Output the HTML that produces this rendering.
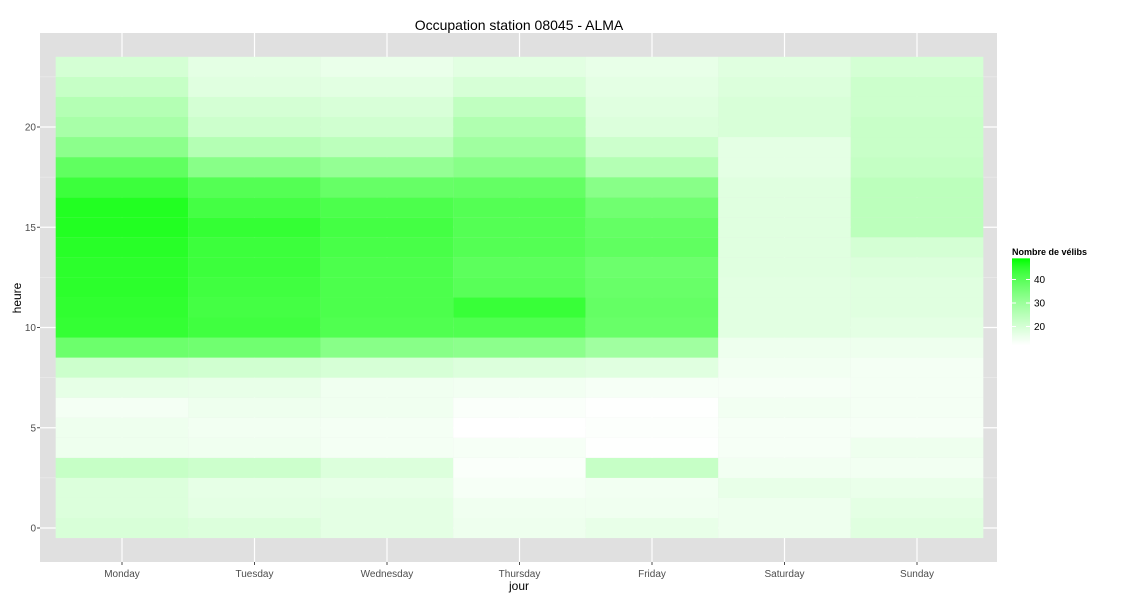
<!DOCTYPE html>
<html><head><meta charset="utf-8"><style>
body{margin:0;background:#fff;font-family:"Liberation Sans",Arial,sans-serif}
svg text{font-family:"Liberation Sans",Arial,sans-serif}
</style></head><body>
<svg id="chart" width="1125" height="600" xmlns="http://www.w3.org/2000/svg">
<rect x="0" y="0" width="1125" height="600" fill="#fff"/>
<rect x="40" y="33" width="957" height="529" fill="#e0e0e0"/>
<g id="grid"></g>
<g id="tiles"></g>
<g id="axes"></g>
<text x="519" y="30" text-anchor="middle" font-size="14" fill="#000">Occupation station 08045 - ALMA</text>
<text x="519" y="590" text-anchor="middle" font-size="12" fill="#000">jour</text>
<text x="21" y="298" text-anchor="middle" font-size="12" fill="#000" transform="rotate(-90 21 298)">heure</text>
<g id="legend">
<text x="1012" y="255" font-size="9" font-weight="bold" fill="#000">Nombre de vélibs</text>
</g>
</svg>
<script>
const days = ["Monday","Tuesday","Wednesday","Thursday","Friday","Saturday","Sunday"];
const yTicks = [0,5,10,15,20];
const legendTicks = [20,30,40];
// values by hour 0..23
const monday    = [19.4,18.6,18.6,22.6,15.3,15.3,14.1,16.7,21.5,37.2,44.6,45.0,45.4,45.4,45.9,46.5,46.5,43.6,39.0,32.4,27.8,25.7,22.6,20.1];
const tuesday   = [18.6,17.1,16.7,21.5,14.9,14.5,15.3,16.4,20.8,36.6,43.1,42.6,43.1,43.6,43.6,44.6,42.6,40.6,33.0,25.7,21.5,20.1,17.9,17.1];
const wednesday = [17.1,17.1,16.4,18.6,14.1,14.1,14.9,14.9,19.7,33.0,41.1,41.6,41.6,41.6,42.2,42.6,41.6,38.1,31.1,24.4,20.8,19.4,17.5,16.0];
const thursday  = [15.3,14.9,13.7,13.0,13.7,12.0,13.0,14.5,18.6,32.4,41.1,44.1,40.0,39.5,40.6,40.6,40.6,38.4,33.0,29.1,26.4,23.7,19.7,17.5];
const friday    = [16.4,14.9,14.5,22.6,12.2,12.6,12.2,13.7,17.9,29.1,37.8,38.4,37.8,37.2,39.0,38.4,36.6,33.0,25.7,21.5,18.6,17.9,17.1,16.4];
const saturday  = [15.3,15.3,16.4,14.5,13.7,13.7,14.5,13.7,14.5,15.3,17.5,17.5,17.5,17.9,17.9,17.9,17.9,17.9,17.1,17.1,19.4,19.4,18.6,17.9];
const sunday    = [17.9,17.1,16.0,14.5,15.3,13.7,14.1,14.1,14.1,15.3,17.1,17.9,17.9,18.6,20.1,24.4,24.4,24.4,22.9,22.2,22.2,21.5,21.5,20.1];
const series = [monday,tuesday,wednesday,thursday,friday,saturday,sunday];
const vmin = 12, vmax = 49;

const NS="http://www.w3.org/2000/svg";
const xc = i => 122 + 132.5*i;
const yc = h => 528 - 20.05*h;
function color(v){
  let t=Math.max(0,Math.min(1,(v-vmin)/(vmax-vmin)));
  const r=Math.round(255*Math.pow(1-t,0.75));
  return `rgb(${r},255,${r})`;
}
function mk(tag,attrs,parent){const e=document.createElementNS(NS,tag);for(const k in attrs)e.setAttribute(k,attrs[k]);parent.appendChild(e);return e;}
const grid=document.getElementById('grid'), tiles=document.getElementById('tiles'), axes=document.getElementById('axes'), legend=document.getElementById('legend');
// minor grid
for(let h=2.5;h<=22.5;h+=5){const l=mk('line',{x1:40,x2:997,y1:yc(h),y2:yc(h),stroke:'#f0f0f0','stroke-width':0.6},grid);

}
yTicks.forEach(t=>{const l=mk('line',{x1:40,x2:997,y1:yc(t),y2:yc(t),stroke:'#fff','stroke-width':1.2},grid);


const tx=mk('text',{x:36,y:yc(t)+3.5,'text-anchor':'end','font-size':10,fill:'#4d4d4d'},axes);tx.textContent=t;


mk('line',{x1:37,x2:40,y1:yc(t),y2:yc(t),stroke:'#4d4d4d'},axes);});
days.forEach((d,i)=>{const l=mk('line',{x1:xc(i),x2:xc(i),y1:33,y2:562,stroke:'#fff','stroke-width':1.2},grid);


const tx=mk('text',{x:xc(i),y:577,'text-anchor':'middle','font-size':10,fill:'#4d4d4d'},axes);tx.textContent=d;


mk('line',{x1:xc(i),x2:xc(i),y1:562,y2:565,stroke:'#4d4d4d'},axes);});
series.forEach((vals,i)=>{vals.forEach((v,h)=>{
  const r=mk('rect',{x:xc(i)-66.3,y:yc(h)-10.03,width:132.6,height:20.1,fill:color(v)},tiles);
  
  
});});
// legend
const ly = v => 303 - (v-30)*2.35;
const defs=mk('defs',{},legend);
const g=mk('linearGradient',{id:'lg',x1:0,y1:1,x2:0,y2:0},defs);
for(let k=0;k<=10;k++){const v=vmin+(vmax-vmin)*k/10;mk('stop',{offset:k/10,'stop-color':color(v)},g);}
const bar=mk('rect',{x:1012,y:ly(vmax),width:18,height:ly(vmin)-ly(vmax),fill:'url(#lg)'},legend);


legendTicks.forEach(t=>{
  mk('line',{x1:1012,x2:1016,y1:ly(t),y2:ly(t),stroke:'#fff'},legend);
  mk('line',{x1:1026,x2:1030,y1:ly(t),y2:ly(t),stroke:'#fff'},legend);
  const tx=mk('text',{x:1034,y:ly(t)+3.5,'font-size':10,fill:'#000'},legend);tx.textContent=t;
  
  
});
</script>
</body></html>
